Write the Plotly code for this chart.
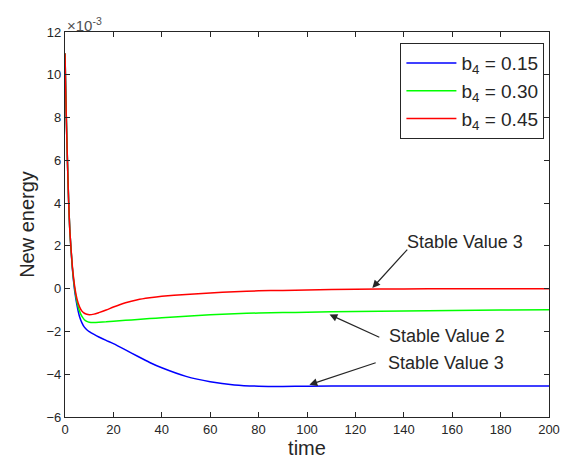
import plotly.graph_objects as go

# time values and series (energy in units of 1e-3)
t_vals = [0, 0.5, 1, 1.5, 2, 3, 4, 5, 6, 7, 8, 9, 10, 12, 14, 17, 20, 25, 30, 35, 40, 50, 60, 70, 80, 90, 100, 120, 140, 160, 180, 200]
blue_vals = [11, 8.2, 6.0, 4.1, 2.7, 1.0, -0.1, -0.8, -1.3, -1.6, -1.8, -1.92, -2.01, -2.14, -2.26, -2.42, -2.57, -2.86, -3.16, -3.45, -3.7, -4.1, -4.35, -4.5, -4.56, -4.57, -4.56, -4.55, -4.55, -4.55, -4.55, -4.55]
green_vals = [11, 8.2, 6.0, 4.1, 2.7, 1.05, 0.0, -0.65, -1.05, -1.3, -1.45, -1.53, -1.57, -1.58, -1.57, -1.55, -1.52, -1.48, -1.44, -1.4, -1.36, -1.29, -1.22, -1.17, -1.14, -1.12, -1.1, -1.07, -1.04, -1.02, -1.0, -0.98]
red_vals = [11, 8.2, 6.0, 4.1, 2.7, 1.1, 0.1, -0.5, -0.85, -1.05, -1.15, -1.2, -1.22, -1.19, -1.12, -1.0, -0.86, -0.66, -0.52, -0.43, -0.36, -0.27, -0.2, -0.14, -0.1, -0.08, -0.06, -0.03, -0.01, 0.0, 0.0, 0.0]

series_names = ["b<sub>4</sub> = 0.15", "b<sub>4</sub> = 0.30", "b<sub>4</sub> = 0.45"]
series_vals = [blue_vals, green_vals, red_vals]
series_colors = ["#0000FF", "#00FF00", "#FF0000"]

x_ticks = list(range(0, 201, 20))
y_ticks = list(range(-6, 13, 2))

FONT = "Liberation Sans, Arial"
DARK = "#262626"

fig = go.Figure()
for name, vals, col in zip(series_names, series_vals, series_colors):
    fig.add_trace(go.Scatter(x=t_vals, y=vals, mode="lines", name=name,
                             line=dict(color=col, width=1.5, shape="spline", smoothing=0.5)))

axis_common = dict(showline=True, linecolor=DARK, linewidth=1.2, mirror="allticks",
                   ticks="inside", ticklen=5, tickcolor=DARK, showgrid=False, zeroline=False,
                   tickfont=dict(family=FONT, size=13, color=DARK))

fig.update_xaxes(range=[0, 200], tickvals=x_ticks,
                 title=dict(text="time", font=dict(family=FONT, size=20, color=DARK), standoff=2),
                 **axis_common)
fig.update_yaxes(range=[-6, 12], tickvals=y_ticks,
                 title=dict(text="New energy", font=dict(family=FONT, size=20, color=DARK), standoff=6),
                 **axis_common)

ann_font = dict(family=FONT, size=18, color=DARK)
annotations = [
    dict(x=140.7, y=2.16, text="Stable Value 3", showarrow=False, xanchor="left", yanchor="middle", font=ann_font),
    dict(x=133.2, y=-2.2, text="Stable Value 2", showarrow=False, xanchor="left", yanchor="middle", font=ann_font),
    dict(x=132.5, y=-3.47, text="Stable Value 3", showarrow=False, xanchor="left", yanchor="middle", font=ann_font),
    dict(x=127, y=0.03, ax=142, ay=1.9, axref="x", ayref="y", text="", showarrow=True,
         arrowhead=2, arrowsize=1.3, arrowwidth=1.2, arrowcolor=DARK),
    dict(x=109.3, y=-1.21, ax=130.5, ay=-2.3, axref="x", ayref="y", text="", showarrow=True,
         arrowhead=2, arrowsize=1.3, arrowwidth=1.2, arrowcolor=DARK),
    dict(x=101, y=-4.49, ax=129, ay=-3.44, axref="x", ayref="y", text="", showarrow=True,
         arrowhead=2, arrowsize=1.3, arrowwidth=1.2, arrowcolor=DARK),
    dict(x=0, y=1, xref="paper", yref="paper", text="×10<sup>-3</sup>", showarrow=False,
         xanchor="left", yanchor="bottom", xshift=0, yshift=-4,
         font=dict(family=FONT, size=15, color="#505050")),
]

fig.update_layout(
    width=572, height=466,
    margin=dict(l=65, r=19, t=32, b=49),
    paper_bgcolor="white", plot_bgcolor="white",
    annotations=annotations,
    legend=dict(x=0.693, y=0.971, xanchor="left", yanchor="top",
                bordercolor=DARK, borderwidth=1, bgcolor="white",
                font=dict(family=FONT, size=19, color=DARK),
                itemwidth=50),
    showlegend=True,
)

fig.write_html("out.html")
